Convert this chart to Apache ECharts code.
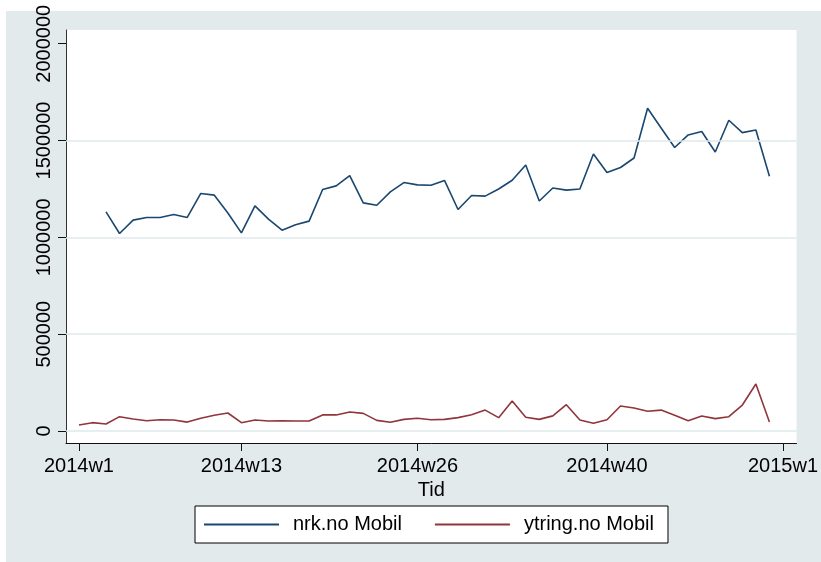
<!DOCTYPE html>
<html>
<head>
<meta charset="utf-8">
<script src="https://cdn.jsdelivr.net/npm/echarts@6/dist/echarts.min.js"></script>
<style>
  html, body { margin: 0; padding: 0; background: #ffffff; }
  #wrap { position: relative; width: 821px; height: 562px; overflow: hidden; }
  #bg { position: absolute; left: 6px; top: 11px; right: 0; bottom: 0; background: #e2eaec; }
  #chart { position: absolute; left: 0; top: 0; width: 821px; height: 562px; }
</style>
</head>
<body>
<div id="wrap"><div id="bg"></div><div id="chart"></div></div>
<script>
// Weekly mobile traffic, 2014w1 .. 2014w52 (index 0..51), axis runs to 2015w1 (index 52)
const weekLabels = [];
for (let w = 1; w <= 52; w++) weekLabels.push('2014w' + w);
weekLabels.push('2015w1');

// nrk.no Mobil: no data for the first two weeks
const nrkMobil = [
  null, null,
  1132000, 1020000, 1089000, 1103000, 1103000, 1118000, 1103000, 1227000, 1218000, 1126000,
  1023000, 1163000, 1094000, 1037000, 1065000, 1084000, 1247000, 1266000, 1319000, 1178000,
  1166000, 1235000, 1283000, 1271000, 1269000, 1294000, 1144000, 1216000, 1213000, 1250000,
  1295000, 1374000, 1188000, 1255000, 1244000, 1250000, 1431000, 1335000, 1361000, 1410000,
  1667000, 1565000, 1464000, 1529000, 1547000, 1441000, 1605000, 1541000, 1555000, 1316000
];

const ytringMobil = [
  31000, 43000, 36000, 74000, 62000, 53000, 58000, 57000, 46000, 66000,
  81000, 93000, 43000, 57000, 52000, 53000, 52000, 52000, 83000, 83000,
  98000, 91000, 55000, 45000, 60000, 66000, 58000, 60000, 69000, 84000,
  108000, 69000, 155000, 71000, 60000, 78000, 136000, 57000, 40000, 58000,
  129000, 119000, 102000, 108000, 81000, 53000, 77000, 64000, 74000, 134000,
  243000, 46000
];

const xTickWeeks = [0, 12, 25, 39, 52];
const yTickValues = [0, 500000, 1000000, 1500000, 2000000];
const yGridValues = [0, 500000, 1000000, 1500000];

const toPairs = arr => arr.map((v, i) => [i, v]).filter(p => p[1] !== null);

const FONT = '"Liberation Sans", Arial, Helvetica, sans-serif';
const GRID_COLOR = '#dfe8eb';

const chart = echarts.init(document.getElementById('chart'), null, { renderer: 'canvas' });

chart.setOption({
  backgroundColor: 'transparent',
  animation: false,
  textStyle: { fontFamily: FONT },
  grid: {
    left: 66, right: 21, top: 30, bottom: 119,
    show: true, backgroundColor: '#ffffff', borderWidth: 0
  },
  xAxis: {
    type: 'value',
    min: -0.956, max: 53.0,
    axisLine: { show: true, onZero: false, lineStyle: { color: '#111', width: 1 } },
    axisTick: { show: true, length: 8, customValues: xTickWeeks, lineStyle: { color: '#111' } },
    axisLabel: {
      customValues: xTickWeeks, margin: 13, fontSize: 20, color: '#000', fontFamily: FONT,
      formatter: v => weekLabels[v]
    },
    splitLine: { show: false },
    name: 'Tid', nameLocation: 'middle', nameGap: 32,
    nameTextStyle: { fontSize: 20, color: '#000', fontFamily: FONT }
  },
  yAxis: {
    type: 'value',
    min: -62000, max: 2071000,
    axisLine: { show: true, onZero: false, lineStyle: { color: '#333', width: 1 } },
    axisTick: { show: true, length: 8, customValues: yTickValues, lineStyle: { color: '#111' } },
    axisLabel: {
      customValues: yTickValues, rotate: 90, margin: 12, fontSize: 20, color: '#000', fontFamily: FONT,
      formatter: v => String(v)
    },
    splitLine: { show: false }
  },
  legend: {
    data: ['nrk.no Mobil', 'ytring.no Mobil'],
    left: 195, top: 506,
    orient: 'horizontal',
    icon: 'rect',
    padding: [8, 14, 8, 9],
    itemGap: 33,
    itemWidth: 75,
    itemHeight: 2,
    borderColor: '#000',
    borderWidth: 1,
    backgroundColor: '#ffffff',
    textStyle: { fontSize: 20, lineHeight: 21, color: '#000', fontFamily: FONT, padding: [0, 0, 0, 9] }
  },
  series: [
    {
      name: 'gridlines',
      type: 'line',
      data: [],
      z: 1,
      silent: true,
      markLine: {
        silent: true,
        symbol: ['none', 'none'],
        label: { show: false },
        lineStyle: { color: GRID_COLOR, width: 1.5, type: 'solid' },
        emphasis: { disabled: true },
        data: yGridValues.map(v => ({ yAxis: v }))
      }
    },
    {
      name: 'nrk.no Mobil',
      type: 'line',
      data: toPairs(nrkMobil),
      symbol: 'none',
      z: 3,
      color: '#1a476f',
      lineStyle: { color: '#1a476f', width: 1.6 }
    },
    {
      name: 'ytring.no Mobil',
      type: 'line',
      data: toPairs(ytringMobil),
      symbol: 'none',
      z: 3,
      color: '#90353b',
      lineStyle: { color: '#90353b', width: 1.6 }
    }
  ]
});
</script>
</body>
</html>
